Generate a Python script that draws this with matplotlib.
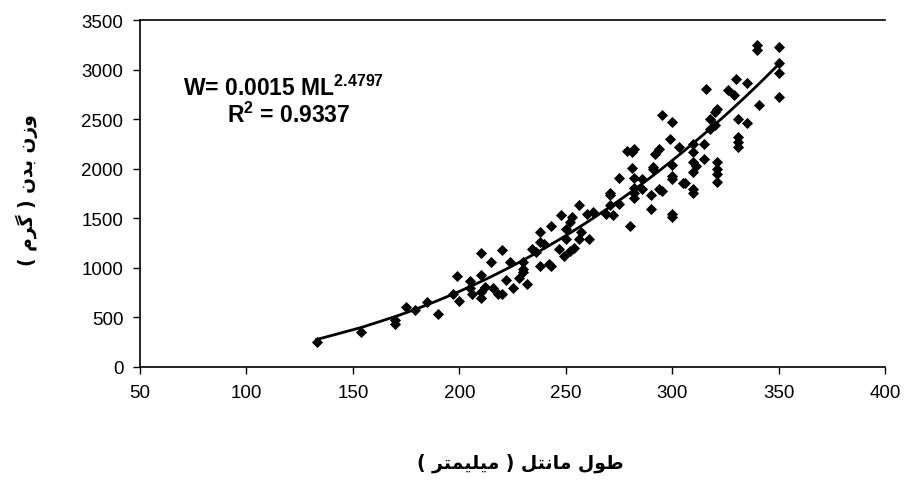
import numpy as np
import matplotlib
matplotlib.use("Agg")
import matplotlib.pyplot as plt

plt.rcParams['font.family'] = ['Liberation Sans', 'DejaVu Sans']
plt.rcParams['mathtext.fontset'] = 'custom'
plt.rcParams['mathtext.rm'] = 'Liberation Sans:bold'
plt.rcParams['mathtext.bf'] = 'Liberation Sans:bold'

# mantle length (mm) and body weight (g)
mantle_len = [133, 154, 170, 170, 175, 179, 185, 190, 197, 199, 200, 205, 205, 206,
              210, 210, 210, 210, 212, 215, 216, 218, 220, 220, 222, 224, 225, 228,
              230, 230, 230, 232, 234, 236, 238, 238, 238, 240, 242, 243, 243, 247,
              248, 249, 250, 250, 252, 252, 253, 254, 256, 256, 257, 260, 261, 263,
              269, 271, 271, 271, 272, 275, 275, 280, 281, 281, 282, 282, 282, 282,
              282, 279, 286, 286, 290, 290, 291, 291, 292, 294, 294, 295, 295, 299,
              300, 300, 300, 300, 300, 300, 303, 305, 306, 310, 310, 310, 310, 310,
              310, 311, 315, 315, 316, 318, 318, 320, 320, 321, 321, 321, 321, 321,
              326, 329, 330, 331, 331, 331, 331, 335, 335, 340, 340, 341, 350, 350,
              350, 350]
body_wt = [250, 350, 435, 470, 600, 570, 660, 530, 740, 920, 670, 870, 800, 740,
           1150, 930, 700, 760, 810, 1060, 800, 740, 1175, 740, 880, 1060, 800, 900,
           1060, 990, 955, 840, 1190, 1160, 1360, 1260, 1020, 1240, 1040, 1420, 1020, 1190,
           1530, 1120, 1390, 1290, 1460, 1170, 1510, 1200, 1630, 1290, 1360, 1540, 1290, 1560,
           1540, 1630, 1730, 1760, 1530, 1910, 1640, 1420, 2170, 2010, 1910, 1810, 1760, 1700,
           2200, 2180, 1800, 1900, 1730, 1590, 2000, 2020, 2150, 2200, 1800, 1780, 2540, 2300,
           2470, 2040, 1930, 1900, 1540, 1510, 2220, 1860, 1860, 2250, 2170, 2070, 1970, 1800,
           1760, 2030, 2100, 2250, 2800, 2400, 2500, 2570, 2440, 2600, 2070, 2000, 1950, 1870,
           2790, 2740, 2910, 2500, 2320, 2270, 2220, 2860, 2460, 3250, 3200, 2640, 3230, 3070,
           2970, 2720]

# power fit W = a * ML^b
coef_a = 0.0015
coef_b = 2.4797
r_sq = 0.9337

x_ticks = [50, 100, 150, 200, 250, 300, 350, 400]
y_ticks = [0, 500, 1000, 1500, 2000, 2500, 3000, 3500]

# axis titles, written in presentation forms (visual order)
x_title = ("( \ufeae\ufe98\ufee4\ufef4\ufee0\ufef4\ufee3 ) "
           "\ufede\ufe98\ufee7\ufe8e\ufee3 \ufedd\ufeee\ufec3")
y_title = "( \ufee1\ufeae\ufb94 ) \ufee5\ufeaa\ufe91 \ufee5\ufeaf\ufeed"

fig = plt.figure(figsize=(9.11, 4.81), dpi=100)
ax = fig.add_axes([0.1537, 0.235, 0.8178, 0.7213])

fit_x = np.array(sorted(set(mantle_len)), dtype=float)
fit_y = coef_a * fit_x ** coef_b
ax.plot(fit_x, fit_y, color='black', lw=2, zorder=2)
ax.scatter(mantle_len, body_wt, marker='D', s=32, color='black', lw=0, zorder=3)

ax.set_xlim(50, 400)
ax.set_ylim(0, 3500)
ax.set_xticks(x_ticks)
ax.set_yticks(y_ticks)
ax.tick_params(direction='out', length=5, width=1, labelsize=13.5, pad=7)
ax.spines['right'].set_visible(False)
for s in ['left', 'bottom', 'top']:
    ax.spines[s].set_linewidth(1.2)

ax.text(0.058, 0.807, r"W= 0.0015 ML$^{2.4797}$", transform=ax.transAxes,
        fontsize=16.5, fontweight='bold', ha='left', va='center')
ax.text(0.117, 0.729, r"R$^{2}$ = 0.%d" % round(r_sq * 10000), transform=ax.transAxes,
        fontsize=16.5, fontweight='bold', ha='left', va='center')

fig.text(0.571, 0.037, x_title, family=['DejaVu Sans'], fontweight='bold',
         fontsize=13.5, ha='center', va='center')
fig.text(0.03, 0.605, y_title, family=['DejaVu Sans'], fontweight='bold',
         fontsize=13.5, ha='center', va='center', rotation=90)

fig.savefig("out.png", dpi=100)
